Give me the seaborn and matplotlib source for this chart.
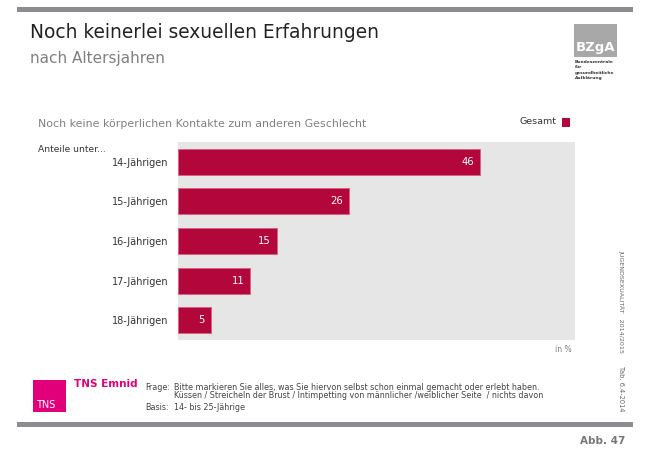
import seaborn as sns
import matplotlib.pyplot as plt
from matplotlib.patches import Rectangle
import pandas as pd

# Data
ages = ['14-Jährigen', '15-Jährigen', '16-Jährigen', '17-Jährigen', '18-Jährigen']
gesamt = [46, 26, 15, 11, 5]

df = pd.DataFrame({'Alter': ages, 'Gesamt': gesamt})

sns.set_style('white')
plt.rcParams['font.family'] = ['DejaVu Sans']

W, H = 648, 450
fig = plt.figure(figsize=(6.48, 4.5), dpi=100)

def fx(x):
    return x / W

def fy(y):
    return 1 - y / H

bar_col = '#B3063A'
gray_bar = '#8B8B90'
text_gray = '#808080'

# top and bottom rules
fig.add_artist(Rectangle((fx(17), fy(12)), fx(616), 5 / H, color=gray_bar, lw=0))
fig.add_artist(Rectangle((fx(17), fy(427)), fx(616), 5 / H, color=gray_bar, lw=0))

# chart
ax = fig.add_axes([fx(178), fy(340), fx(397), 198 / H])
ax.set_facecolor('#E6E6E6')
sns.barplot(data=df, x='Gesamt', y='Alter', color=bar_col, width=0.66,
            saturation=1, ax=ax, edgecolor='#D9607F', linewidth=0.6)
ax.set_xlim(0, 60.4)
ax.set_ylim(4.5, -0.5)
ax.set_xlabel('')
ax.set_ylabel('')
ax.set_xticks([])
ax.tick_params(axis='y', length=0, pad=7, labelsize=7, labelcolor='#333333')
for s in ax.spines.values():
    s.set_visible(False)
for i, v in enumerate(gesamt):
    ax.text(v - 0.9, i, str(v), color='white', ha='right', va='center', fontsize=7.2)

# titles
fig.text(fx(30), fy(32), 'Noch keinerlei sexuellen Erfahrungen', fontsize=13.4,
         color='#222222', va='center')
fig.text(fx(30), fy(58), 'nach Altersjahren', fontsize=11, color=text_gray, va='center')
fig.text(fx(38), fy(124), 'Noch keine körperlichen Kontakte zum anderen Geschlecht',
         fontsize=7.9, color=text_gray, va='center')
fig.text(fx(38), fy(150), 'Anteile unter...', fontsize=6.6, color='#333333', va='center')

# legend
fig.text(fx(556), fy(122), 'Gesamt', fontsize=6.8, color='#333333', va='center', ha='right')
fig.add_artist(Rectangle((fx(562), fy(127)), fx(8), 9 / H, color=bar_col, lw=0))
fig.text(fx(572), fy(349), 'in %', fontsize=5.5, color=text_gray, va='center', ha='right')

# BZgA logo
fig.add_artist(Rectangle((fx(574), fy(57)), fx(43), 33 / H, color='#A8A8A8', lw=0))
fig.text(fx(576), fy(48), 'BZgA', fontsize=9.5, color='white', va='center', weight='bold')
for k, line in enumerate(['Bundeszentrale', 'für', 'gesundheitliche', 'Aufklärung']):
    fig.text(fx(575), fy(62 + k * 5.5), line, fontsize=3.2, color='#333333', va='center',
             weight='bold')

# TNS logo
fig.add_artist(Rectangle((fx(33), fy(412)), fx(33), 32 / H, color='#E2007A', lw=0))
fig.text(fx(36), fy(405), 'TNS', fontsize=7, color='white', va='center')
fig.text(fx(74), fy(384), 'TNS Emnid', fontsize=7.5, color='#E2007A', weight='bold', va='center')

# footnote
fs = 5.8
fig.text(fx(145), fy(387), 'Frage:', fontsize=fs, color='#444444', va='center')
fig.text(fx(174), fy(387),
         'Bitte markieren Sie alles, was Sie hiervon selbst schon einmal gemacht oder erlebt haben.',
         fontsize=fs, color='#444444', va='center')
fig.text(fx(174), fy(396),
         'Küssen / Streicheln der Brust / Intimpetting von männlicher /weiblicher Seite  / nichts davon',
         fontsize=fs, color='#444444', va='center')
fig.text(fx(145), fy(408), 'Basis:', fontsize=fs, color='#444444', va='center')
fig.text(fx(174), fy(408), '14- bis 25-Jährige', fontsize=fs, color='#444444', va='center')

# side text
fig.text(fx(621), fy(250), 'JUGENDSEXUALITÄT   2014/2015', fontsize=4.6, color='#666666',
         rotation=-90, ha='center', va='top')
fig.text(fx(621), fy(366), 'Tab. 6.4-2014', fontsize=4.8, color='#666666',
         rotation=-90, ha='center', va='top')

fig.text(fx(625), fy(441), 'Abb. 47', fontsize=7.5, color='#777777', weight='bold',
         ha='right', va='center')

fig.savefig('out.png', dpi=100)
